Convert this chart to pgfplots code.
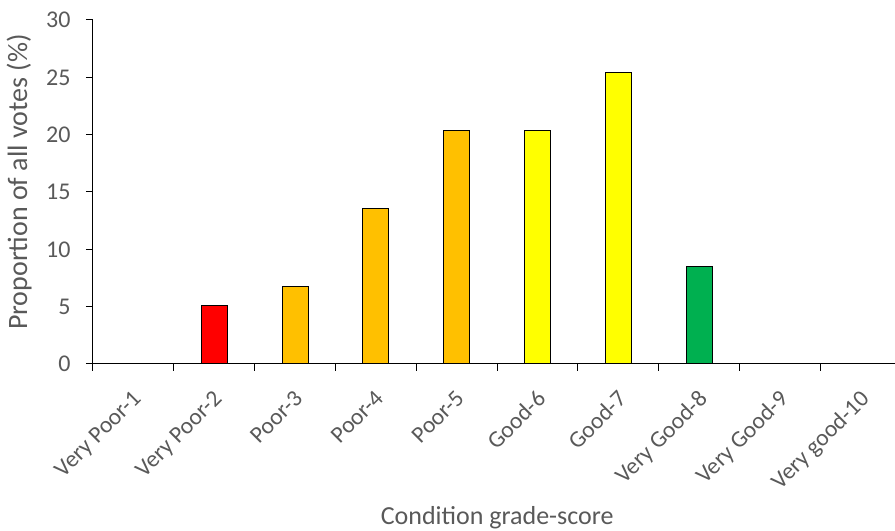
\documentclass[border=0pt]{standalone}
\usepackage{pgfplots}
\pgfplotsset{compat=1.18}
\usepackage{fontspec}
\setmainfont{Carlito}
\usetikzlibrary{calc}
\definecolor{txt}{HTML}{595959}
\definecolor{vpoor}{HTML}{FF0000}
\definecolor{poor}{HTML}{FFC000}
\definecolor{good}{HTML}{FFFF00}
\definecolor{vgood}{HTML}{00B050}
\begin{document}
\begin{tikzpicture}
\begin{axis}[
  name=ax,
  scale only axis,
  width=802pt, height=344pt,
  xmin=-0.5, xmax=9.425,
  ymin=0, ymax=30,
  ytick={0,5,...,30},
  xtick={0,...,9},
  xticklabels={Very Poor-1,Very Poor-2,Poor-3,Poor-4,Poor-5,Good-6,Good-7,Very Good-8,Very Good-9,Very good-10},
  major x tick style={draw=none},
  minor xtick={-0.5,0.5,...,8.5},
  minor tick length=7pt,
  major tick length=7pt,
  tick align=outside,
  tick style={black, line width=1pt},
  axis x line*=bottom,
  axis y line*=left,
  axis line style={black, line width=1pt, -},
  x tick label style={xshift=-2pt, yshift=-13pt, rotate=45, anchor=north east, font=\fontsize{23.5}{27}\selectfont, text=txt},
  y tick label style={font=\fontsize{24}{27}\selectfont, text=txt, xshift=-12pt},
  /pgf/number format/assume math mode=true,
  xlabel={Condition grade-score},
  ylabel={Proportion of all votes (\%)},
  xlabel style={font=\fontsize{26}{30}\selectfont, text=txt, at={(axis description cs:0.504,-0.468)}, anchor=base},
  ylabel style={font=\fontsize{28}{30}\selectfont, text=txt, at={(axis description cs:-0.072,0.529)}, anchor=south},
  ybar, bar width=26pt, bar shift=0pt,
  clip=false,
]
\addplot[draw=black, line width=1pt, fill=vpoor] coordinates {(1,5.08)};
\addplot[draw=black, line width=1pt, fill=poor] coordinates {(2,6.78) (3,13.56) (4,20.34)};
\addplot[draw=black, line width=1pt, fill=good] coordinates {(5,20.34) (6,25.42)};
\addplot[draw=black, line width=1pt, fill=vgood] coordinates {(7,8.47)};
\end{axis}
\pgfresetboundingbox
\path ($(ax.south west)+(-93pt,-167pt)$) rectangle ($(ax.north east)+(0pt,20pt)$);
\end{tikzpicture}
\end{document}
